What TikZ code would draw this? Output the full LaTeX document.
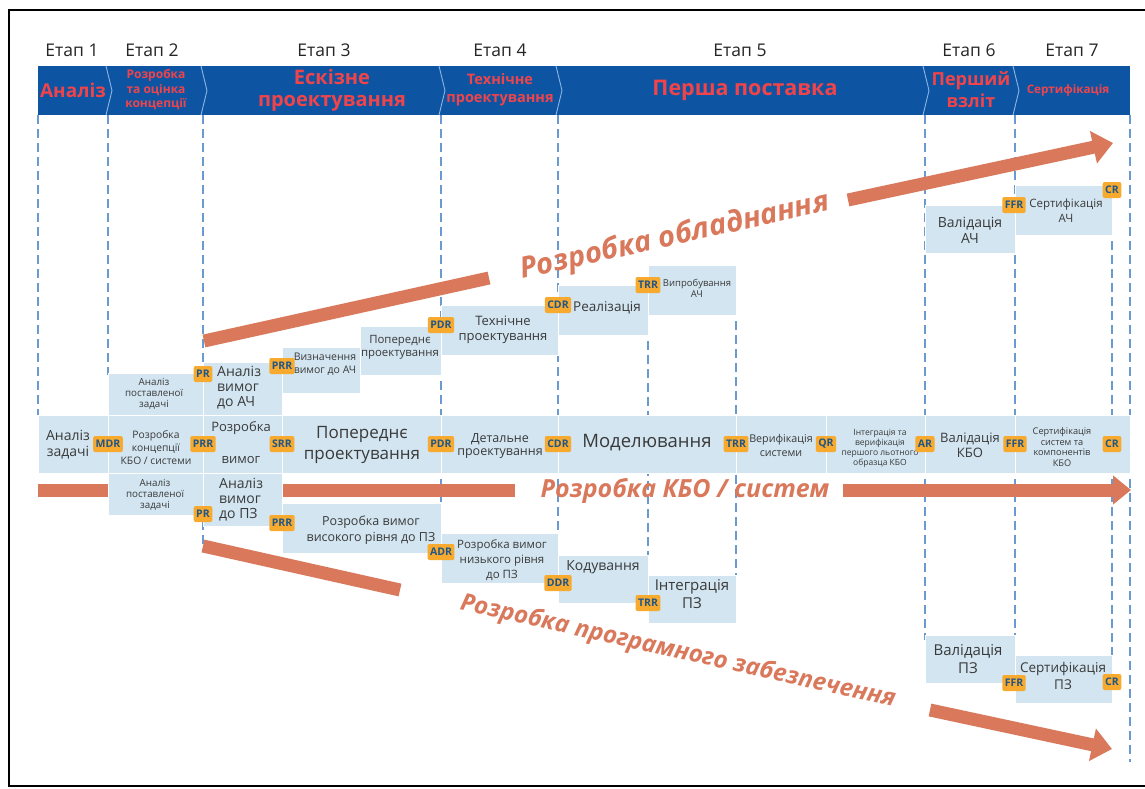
\documentclass[tikz,border=0pt]{standalone}
\usepackage{fontspec}
\setmainfont{Open Sans}
\usetikzlibrary{arrows.meta}
\definecolor{barblue}{HTML}{0D55A3}
\definecolor{stagered}{HTML}{F0444A}
\definecolor{sepblue}{HTML}{8DB4E2}
\definecolor{boxblue}{HTML}{D2E5F1}
\definecolor{tagfill}{HTML}{F7AA2E}
\definecolor{tagtext}{HTML}{1F5689}
\definecolor{flow}{HTML}{D9785B}
\definecolor{guide}{HTML}{6A9AD0}
\definecolor{ink}{HTML}{3A3A3A}
\newcommand\fsz[2]{\fontsize{#1}{#2}\selectfont}
\begin{document}
\begin{tikzpicture}[x=1pt,y=-1pt,
  box/.style={fill=boxblue,draw=white,line width=0.8pt},
  tag/.style={fill=tagfill,rounded corners=2pt,text=tagtext,
    font=\fsz{10.5}{11}\bfseries,inner xsep=2.5pt,inner ysep=0pt,
    minimum height=16pt},
  lbl/.style={text=ink,align=center,inner sep=0pt},
  stagehead/.style={text=black!85,font=\fsz{17.5}{19},inner sep=0pt},
  stagename/.style={text=stagered,align=center,inner sep=0pt},
  guideline/.style={guide,line width=1.4pt,dash pattern=on 9pt off 5pt},
  flowbar/.style={flow,line width=13pt},
  flowarrow/.style={flow,line width=13pt,-{Triangle[width=32pt,length=20pt]}},
  flowtext/.style={text=flow,font=\fsz{29}{31}\bfseries\itshape,inner sep=0pt},
  separator/.style={sepblue,line width=0.9pt}]

% page and frame
\useasboundingbox (0,0) rectangle (1145,788);
\fill[white] (0,0) rectangle (1145,788);
\begin{scope}
\clip (0,0) rectangle (1145,788);
\draw[black,line width=2.5pt] (9,10) rectangle (1170,786);
\end{scope}

% stage captions
\node[stagehead] (e1) at (72,50) {Етап 1};
\node[stagehead] (e2) at (152,50) {Етап 2};
\node[stagehead] (e3) at (324,50) {Етап 3};
\node[stagehead] (e4) at (500,50) {Етап 4};
\node[stagehead] (e5) at (740,50) {Етап 5};
\node[stagehead] (e6) at (969,50) {Етап 6};
\node[stagehead] (e7) at (1072,50) {Етап 7};

% phase bar
\fill[barblue] (38,66) rectangle (1130,115);
\foreach \sx in {108,203,441,558,925,1015}
  \draw[separator] (\sx-2,66) -- (\sx+4,90.5) -- (\sx-2,115);

\node[stagename,font=\fsz{19}{21}\bfseries] (p1) at (73,90) {Аналіз};
\node[stagename,font=\fsz{12}{14.5}\bfseries] (p2) at (156,90) {Розробка\\та оцінка\\концепції};
\node[stagename,font=\fsz{20}{22}\bfseries] (p3) at (332,90) {Ескізне\\проектування};
\node[stagename,font=\fsz{14.5}{18}\bfseries] (p4) at (500,90) {Технічне\\проектування};
\node[stagename,font=\fsz{21.5}{23}\bfseries] (p5) at (745,90) {Перша поставка};
\node[stagename,font=\fsz{18}{22}\bfseries] (p6) at (971,90) {Перший\\взліт};
\node[stagename,font=\fsz{11.7}{13}\bfseries] (p7) at (1068,90) {Сертифікація};

% stage boundary guides
\draw[guideline] (38,115) -- (38,415);
\draw[guideline] (108,115) -- (108,375);
\draw[guideline] (203,115) -- (203,552);
\draw[guideline] (441,115) -- (441,535);
\draw[guideline] (558,115) -- (558,556);
\draw[guideline] (648,285) -- (648,600);
\draw[guideline] (736,265) -- (736,600);
\draw[guideline] (925,115) -- (925,640);
\draw[guideline] (1015,115) -- (1015,660);
\draw[guideline] (1112,185) -- (1112,660);
\draw[guideline] (1130,115) -- (1130,762);

% system flow, left part behind the boxes
\coordinate (kboA) at (38,490);
\coordinate (kboB) at (515,490);
\coordinate (kboC) at (843,490);
\coordinate (kboD) at (1131,490);
\draw[flowbar] (kboA) -- (kboB);
\draw[flow,line width=13pt,-{Triangle[width=28pt,length=18pt]}] (kboC) -- (kboD);

% main row
\path[box] (38,415) rectangle (108,473);
\path[box] (108,415) rectangle (203,473);
\path[box] (203,415) rectangle (282,473);
\path[box] (282,415) rectangle (441,473);
\path[box] (441,415) rectangle (558,473);
\path[box] (558,415) rectangle (736,473);
\path[box] (736,415) rectangle (826,473);
\path[box] (826,415) rectangle (925,473);
\path[box] (925,415) rectangle (1015,473);
\path[box] (1015,415) rectangle (1130,473);

% hardware branch
\path[box] (108,373) rectangle (203,415);
\path[box] (203,362) rectangle (282,415);
\path[box] (282,347) rectangle (360,393);
\path[box] (360,326) rectangle (441,375);
\path[box] (441,305) rectangle (558,355);
\path[box] (558,285) rectangle (648,335);
\path[box] (648,265) rectangle (736,315);
\path[box] (925,205) rectangle (1015,253);
\path[box] (1015,185) rectangle (1112,235);

% software branch
\path[box] (108,473) rectangle (203,515);
\path[box] (203,473) rectangle (282,526);
\path[box] (282,503) rectangle (441,553);
\path[box] (441,533) rectangle (558,583);
\path[box] (558,555) rectangle (648,603);
\path[box] (648,575) rectangle (736,623);
\path[box] (925,635) rectangle (1015,683);
\path[box] (1015,655) rectangle (1112,703);

% main row labels
\node[lbl,font=\fsz{14}{16}] (az) at (68,445) {Аналіз\\задачі};
\node[lbl,font=\fsz{10.3}{13}] (rk) at (156,448) {Розробка\\концепції\\КБО / системи};
\node[lbl,font=\fsz{13}{15}] (rv1) at (241,428) {Розробка};
\node[lbl,font=\fsz{13}{15}] (rv2) at (241,460) {вимог};
\node[lbl,font=\fsz{17}{21}] (pp) at (362,445) {Попереднє\\проектування};
\node[lbl,font=\fsz{12.5}{13.5}] (dp) at (500,446) {Детальне\\проектування};
\node[lbl,font=\fsz{18.5}{20}] (md) at (647,443) {Моделювання};
\node[lbl,font=\fsz{10.7}{14}] (vs) at (781,445) {Верифікація\\системи};
\node[lbl,font=\fsz{8.5}{10}] (iv) at (880,448) {Інтеграція та\\верифікація\\першого льотного\\образца КБО};
\node[lbl,font=\fsz{13}{15}] (vk) at (970,445) {Валідація\\КБО};
\node[lbl,font=\fsz{9.2}{10.5}] (sk) at (1062,447) {Сертифікація\\систем та\\компонентів\\КБО};

% hardware labels
\node[lbl,font=\fsz{9.8}{11}] (apz1) at (154,394) {Аналіз\\поставленої\\задачі};
\node[lbl,font=\fsz{14}{15},align=left,anchor=west] (vach) at (217,388) {Аналіз\\вимог\\до АЧ};
\node[lbl,font=\fsz{10.5}{12.5}] (vz) at (325,364) {Визначення\\вимог до АЧ};
\node[lbl,font=\fsz{11.4}{13}] (pps) at (400,347) {Попереднє\\проектування};
\node[lbl,font=\fsz{13}{15}] (tp) at (503,330) {Технічне\\проектування};
\node[lbl,font=\fsz{13.5}{15}] (rl) at (607,308) {Реалізація};
\node[lbl,font=\fsz{9.5}{11}] (va) at (697,288) {Випробування\\АЧ};
\node[lbl,font=\fsz{14}{16}] (vlach) at (970,230) {Валідація\\АЧ};
\node[lbl,font=\fsz{11.5}{15}] (sach) at (1066,211) {Сертифікація\\АЧ};

% software labels
\node[lbl,font=\fsz{9.8}{11}] (apz2) at (155,495) {Аналіз\\поставленої\\задачі};
\node[lbl,font=\fsz{14}{15},align=left,anchor=west] (vpz) at (219,500) {Аналіз\\вимог\\до ПЗ};
\node[lbl,font=\fsz{12.5}{16}] (vvr) at (371,530) {Розробка вимог\\високого рівня до ПЗ};
\node[lbl,font=\fsz{11.5}{15}] (vnr) at (502,560) {Розробка вимог\\низького рівня\\до ПЗ};
\node[lbl,font=\fsz{14}{15}] (kd) at (603,567) {Кодування};
\node[lbl,font=\fsz{15}{18}] (ipz) at (692,594) {Інтеграція\\ПЗ};
\node[lbl,font=\fsz{15}{18}] (vlpz) at (968,659) {Валідація\\ПЗ};
\node[lbl,font=\fsz{13.5}{17}] (spz) at (1063,676) {Сертифікація\\ПЗ};

% review gates
\node[tag] (g-mdr) at (108,444) {MDR};
\node[tag] (g-prr) at (203,444) {PRR};
\node[tag] (g-srr) at (282,444) {SRR};
\node[tag] (g-pdr) at (441,444) {PDR};
\node[tag] (g-cdr) at (558,444) {CDR};
\node[tag] (g-trr) at (736,444) {TRR};
\node[tag] (g-qr) at (826,444) {QR};
\node[tag] (g-ar) at (925,444) {AR};
\node[tag] (g-ffr) at (1015,444) {FFR};
\node[tag] (g-cr) at (1112,444) {CR};

\node[tag] (h-pr) at (203,374) {PR};
\node[tag] (h-prr) at (282,366) {PRR};
\node[tag] (h-pdr) at (441,325) {PDR};
\node[tag] (h-cdr) at (558,305) {CDR};
\node[tag] (h-trr) at (648,285) {TRR};
\node[tag] (h-ffr) at (1014,205) {FFR};
\node[tag] (h-cr) at (1112,190) {CR};

\node[tag] (s-pr) at (203,514) {PR};
\node[tag] (s-prr) at (282,523) {PRR};
\node[tag] (s-adr) at (441,552) {ADR};
\node[tag] (s-ddr) at (558,583) {DDR};
\node[tag] (s-trr) at (648,603) {TRR};
\node[tag] (s-ffr) at (1014,683) {FFR};
\node[tag] (s-cr) at (1112,682) {CR};

% hardware flow
\coordinate (hwA) at (204,341);
\coordinate (hwB) at (489,278);
\coordinate (hwC) at (848,200);
\coordinate (hwD) at (1113,143);
\draw[flowbar] (hwA) -- (hwB);
\draw[flowarrow] (hwC) -- (hwD);
\node[flowtext,rotate=12.5] (hwtext) at (675,237) {Розробка обладнання};

% system flow caption
\node[flowtext,font=\fsz{25}{27}\bfseries\itshape] (kbotext) at (685,491) {Розробка КБО / систем};

% software flow
\coordinate (swA) at (203,546);
\coordinate (swB) at (400,590);
\coordinate (swC) at (930,710);
\coordinate (swD) at (1112,749);
\draw[flowbar] (swA) -- (swB);
\draw[flowarrow] (swC) -- (swD);
\node[flowtext,font=\fsz{24}{26}\bfseries\itshape,rotate=-12.6] (swtext) at (678,652) {Розробка програмного забезпечення};
\end{tikzpicture}
\end{document}
